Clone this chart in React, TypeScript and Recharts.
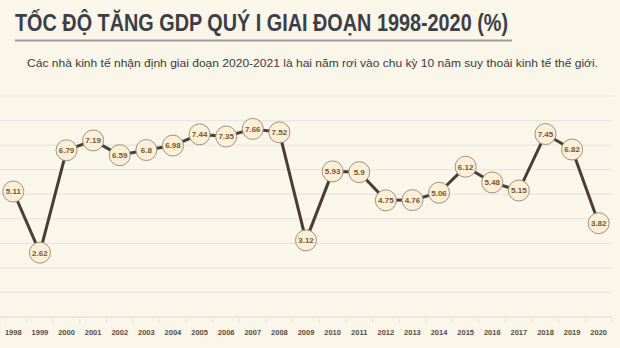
import React from "react";
import { LineChart, Line, XAxis, YAxis, CartesianGrid, LabelList } from "recharts";

const years = ["1998","1999","2000","2001","2002","2003","2004","2005","2006","2007","2008","2009","2010","2011","2012","2013","2014","2015","2016","2017","2018","2019","2020"];
const gdp = [5.11, 2.62, 6.79, 7.19, 6.59, 6.8, 6.98, 7.44, 7.35, 7.66, 7.52, 3.12, 5.93, 5.9, 4.75, 4.76, 5.06, 6.12, 5.48, 5.15, 7.45, 6.82, 3.82];
const yTicks = [0, 1, 2, 3, 4, 5, 6, 7, 8, 9];
const title = "TỐC ĐỘ TĂNG GDP QUÝ I GIAI ĐOẠN 1998-2020 (%)";
const subtitle = "Các nhà kinh tế nhận định giai đoạn 2020-2021 là hai năm rơi vào chu kỳ 10 năm suy thoái kinh tế thế giới.";

const data = years.map((y, i) => ({ year: y, value: gdp[i] }));

const CHART_W = 620;
const MARGIN = { top: 96, right: 8, left: 0, bottom: 1 };
const HALF_BAND = (CHART_W - MARGIN.left - MARGIN.right) / years.length / 2;

const Dot = (props: any) => {
  const { cx, cy } = props;
  if (cx == null || cy == null) return null;
  return <circle cx={cx} cy={cy} r={10.5} fill="#fdf0d6" stroke="#9a9386" strokeWidth={1} />;
};

const Tick = (props: any) => {
  const { x, y, payload, index } = props;
  const last = index === years.length - 1;
  return (
    <g>
      <line x1={x - HALF_BAND} x2={x - HALF_BAND} y1={y} y2={y - 4} stroke="#e0e0dc" />
      {last && <line x1={x + HALF_BAND} x2={x + HALF_BAND} y1={y} y2={y - 4} stroke="#e0e0dc" />}
      <text x={x} y={y + 12} textAnchor="middle" fontSize={7.5} fontWeight={600} fill="#5b4a3c" fontFamily="'Liberation Sans', Arial, sans-serif">
        {payload.value}
      </text>
    </g>
  );
};

export default function App() {
  return (
    <div style={{ position: "absolute", left: 0, top: 0, width: 620, height: 348, background: "#faf6e9", overflow: "hidden" }}>
      <svg width={620} height={348} style={{ position: "absolute", left: 0, top: 0 }}>
        <text x={15} y={31} textLength={493} lengthAdjust="spacingAndGlyphs" fontFamily="'Liberation Sans', Arial, sans-serif" fontWeight="bold" fontSize={23} fill="#3d3d48">{title}</text>
        <rect x={15} y={39.5} width={497} height={2} fill="#9b9b9b" />
        <text x={27} y={67} textLength={571} lengthAdjust="spacingAndGlyphs" fontFamily="'Liberation Sans', Arial, sans-serif" fontSize={11.5} fill="#3a3a3a">{subtitle}</text>
      </svg>
      <div style={{ position: "absolute", left: 0, top: 0 }}>
        <LineChart width={CHART_W} height={348} data={data} margin={MARGIN}>
          <CartesianGrid vertical={false} stroke="#e6e6e2" strokeWidth={1.2} />
          <XAxis
            dataKey="year"
            height={30}
            interval={0}
            padding={{ left: HALF_BAND, right: HALF_BAND }}
            axisLine={{ stroke: "#e0e0dc" }}
            tickLine={false}
            tick={<Tick />}
            tickMargin={0}
          />
          <YAxis hide domain={[0, 9]} ticks={yTicks} />
          <Line
            type="linear"
            dataKey="value"
            stroke="#4a3d35"
            strokeWidth={3}
            dot={<Dot />}
            activeDot={false}
            isAnimationActive={false}
          >
            <LabelList dataKey="value" position="center" fontSize={8} fontWeight="bold" fill="#7a5534" fontFamily="'Liberation Sans', Arial, sans-serif" />
          </Line>
        </LineChart>
      </div>
    </div>
  );
}
